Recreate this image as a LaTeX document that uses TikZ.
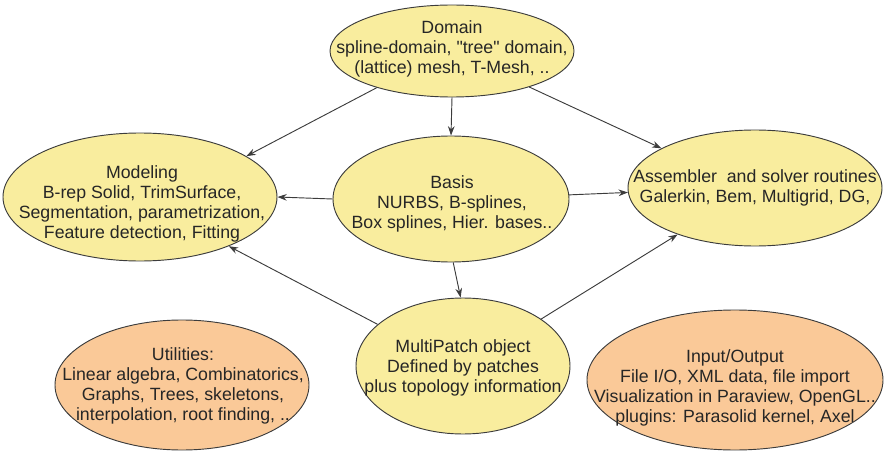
\documentclass[tikz,border=0pt]{standalone}
\usepackage{fontspec}
\newfontfamily\diagfont{Liberation Sans}
\usetikzlibrary{arrows.meta,shapes.geometric}
\definecolor{ylw}{RGB}{249,237,158}
\definecolor{org}{RGB}{250,201,152}
\definecolor{edge}{RGB}{60,60,60}
\tikzset{
  ell/.style={ellipse, draw=edge, line width=0.7pt, inner sep=0pt},
  yell/.style={ell, fill=ylw},
  oell/.style={ell, fill=org},
  txt/.style={align=center, font=\diagfont\fontsize{13.3}{15.2}\selectfont, text=black!85},
  conn/.style={draw=edge, line width=0.7pt, -{Stealth[length=7pt,width=5pt]}}
}
\begin{document}
\begin{tikzpicture}[x=0.75pt,y=-0.75pt]
\useasboundingbox (0,0) rectangle (886,453);
\node[yell, minimum width=183pt, minimum height=69pt] (dom) at (452,51) {};
\node[yell, minimum width=205.5pt, minimum height=96pt] (mod) at (140,197) {};
\node[yell, minimum width=177pt, minimum height=94.5pt] (bas) at (451,199) {};
\node[yell, minimum width=190.5pt, minimum height=87pt] (asm) at (755,188) {};
\node[oell, minimum width=190.5pt, minimum height=97.5pt] (utl) at (182,385) {};
\node[yell, minimum width=160.5pt, minimum height=102pt] (mp) at (463,366) {};
\node[oell, minimum width=222pt, minimum height=105pt] (io) at (735,380) {};

\node[txt] (domt) at (452,49) {Domain\\spline-domain, "tree" domain,\\(lattice) mesh, T-Mesh, ..};
\node[txt] (modt) at (142,204) {Modeling\\B-rep Solid, TrimSurface,\\Segmentation, parametrization,\\Feature detection, Fitting};
\node[txt] (bast) at (452,204) {Basis\\NURBS, B-splines,\\Box splines, Hier. bases..};
\node[txt] (asmt) at (755,188) {Assembler\ \ and solver routines\\Galerkin, Bem, Multigrid, DG,};
\node[txt] (utlt) at (183,386) {Utilities:\\Linear algebra, Combinatorics,\\Graphs, Trees, skeletons,\\interpolation, root finding, ..};
\node[txt] (mpt) at (463,368) {MultiPatch object\\Defined by patches\\plus topology information};
\node[txt] (iot) at (735,388) {Input/Output\\File I/O, XML data, file import\\Visualization in Paraview, OpenGL..\\plugins: Parasolid kernel, Axel};

\draw[conn] (dom.206) -- (mod.21);
\draw[conn] (dom.south) -- (bas.north);
\draw[conn] (dom.335) -- (asm.157);
\draw[conn] (bas.180) -- (mod.0);
\draw[conn] (bas.2) -- (asm.182);
\draw[conn] (bas.272) -- (mp.92);
\draw[conn] (mp.154) -- (mod.331);
\draw[conn] (mp.31) -- (asm.211);
\end{tikzpicture}
\end{document}
